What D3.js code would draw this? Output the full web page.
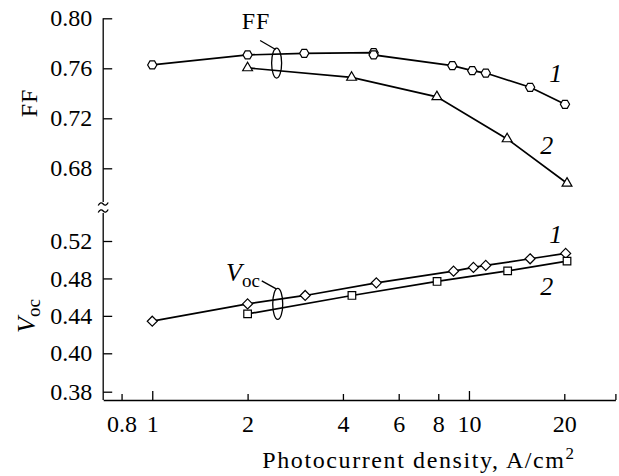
<!DOCTYPE html>
<html>
<head>
<meta charset="utf-8">
<script src="https://cdn.jsdelivr.net/npm/d3@7"></script>
<style>
  body { margin: 0; background: #fff; }
  svg { display: block; font-family: "Liberation Serif", "Times New Roman", serif; }
</style>
</head>
<body>
<div id="chart"></div>
<script>
// photocurrent density, A/cm2
const ffCurrent1 = [1, 2, 3.02, 5, 5, 8.86, 10.24, 11.3, 15.6, 20.1];
const ff1 = [0.7627, 0.7707, 0.772, 0.7725, 0.7707, 0.7621, 0.7581, 0.7562, 0.7448, 0.7312];
const ffCurrent2 = [2, 4.26, 7.92, 13.2, 20.4];
const ff2 = [0.7603, 0.7527, 0.7372, 0.7035, 0.668];

const vocCurrent1 = [1, 2, 3.04, 5.1, 8.94, 10.33, 11.3, 15.6, 20.2];
const voc1 = [0.4343, 0.4528, 0.4618, 0.4753, 0.4878, 0.4918, 0.4939, 0.501, 0.5067];
const vocCurrent2 = [2, 4.27, 7.93, 13.25, 20.4];
const voc2 = [0.4421, 0.4618, 0.4768, 0.4881, 0.4985];

const xTicks = [0.8, 1, 2, 4, 6, 8, 10, 20];
const xMajor = [1, 10];
const ffTicks = [0.68, 0.72, 0.76, 0.80];
const vocTicks = [0.38, 0.40, 0.44, 0.48, 0.52];

const width = 619, height = 476;
const fs = 24;

const svg = d3.select("#chart").append("svg")
  .attr("width", width)
  .attr("height", height);

const x = d3.scaleLog().domain([0.7, 29]).range([103.2, 615.4]);
const yTop = d3.scaleLinear().domain([0.68, 0.80]).range([168.3, 18.3]);
// lower panel axis is not uniform below 0.40 in the original
const yBot = d3.scaleLinear().domain([0.38, 0.40, 0.52]).range([391.7, 353.3, 241]);

const axisY = 400;
const x0 = x.range()[0];

// x axis
const xAxis = svg.append("g")
  .attr("transform", `translate(0,${axisY})`)
  .call(d3.axisBottom(x)
    .tickValues(xTicks.concat([x.domain()[1]]))
    .tickFormat(d => xTicks.includes(d) ? d3.format("~g")(d) : "")
    .tickSizeInner(-6)
    .tickSizeOuter(0)
    .tickPadding(15));
xAxis.selectAll(".tick line")
  .attr("y2", d => xMajor.includes(d) ? -9 : -6);

// y axes
const topAxis = svg.append("g")
  .attr("transform", `translate(${x0},0)`)
  .call(d3.axisLeft(yTop).tickValues(ffTicks).tickFormat(d3.format(".2f"))
    .tickSizeInner(-9).tickSizeOuter(0).tickPadding(11));
topAxis.select(".domain").remove();
const botAxis = svg.append("g")
  .attr("transform", `translate(${x0},0)`)
  .call(d3.axisLeft(yBot).tickValues(vocTicks).tickFormat(d3.format(".2f"))
    .tickSizeInner(-9).tickSizeOuter(0).tickPadding(11));
botAxis.select(".domain").remove();

svg.selectAll(".tick text")
  .attr("font-size", fs)
  .attr("font-family", "Liberation Serif")
  .attr("fill", "#000");
svg.selectAll(".tick line, .domain").attr("stroke", "#000").attr("stroke-width", 1.3);

// broken y axis line
const axisLine = svg.append("g").attr("stroke", "#000").attr("stroke-width", 1.3).attr("fill", "none");
axisLine.append("line").attr("x1", x0).attr("x2", x0).attr("y1", yTop(0.80)).attr("y2", 202);
axisLine.append("line").attr("x1", x0).attr("x2", x0).attr("y1", 213).attr("y2", axisY);
[204, 211].forEach(yy => {
  axisLine.append("path")
    .attr("transform", `translate(${x0},${yy})`)
    .attr("d", "M-5,1.5 Q-2.5,-3 0,0 T5,-1.5");
});

// markers
function hexagon(r) {
  const pts = d3.range(6).map(i => {
    const a = Math.PI / 3 * i;
    return [r * Math.cos(a), r * Math.sin(a)];
  });
  return "M" + pts.join("L") + "Z";
}
const shapes = {
  hex: hexagon(4.6),
  tri: d3.symbol(d3.symbolTriangle, 42)(),
  dia: "M0,-5L5,0L0,5L-5,0Z",
  sq: "M-3.8,-3.8H3.8V3.8H-3.8Z"
};

function series(xs, ys, yScale, shape) {
  const pts = xs.map((d, i) => [d, ys[i]]);
  const line = d3.line().x(d => x(d[0])).y(d => yScale(d[1]));
  svg.append("path")
    .datum(pts)
    .attr("d", line)
    .attr("fill", "none")
    .attr("stroke", "#000")
    .attr("stroke-width", 1.7);
  svg.append("g").selectAll("path")
    .data(pts)
    .join("path")
    .attr("transform", d => `translate(${x(d[0])},${yScale(d[1])})`)
    .attr("d", shapes[shape])
    .attr("fill", "#fff")
    .attr("stroke", "#000")
    .attr("stroke-width", 1.2);
}

series(ffCurrent1, ff1, yTop, "hex");
series(ffCurrent2, ff2, yTop, "tri");
series(vocCurrent1, voc1, yBot, "dia");
series(vocCurrent2, voc2, yBot, "sq");

// group ellipses with leaders
const ann = svg.append("g").attr("fill", "none").attr("stroke", "#000").attr("stroke-width", 1.3);
ann.append("ellipse").attr("cx", x(2.47)).attr("cy", yTop(0.7642)).attr("rx", 5).attr("ry", 15);
ann.append("line").attr("x1", x(2.47) - 16.5).attr("y1", yTop(0.7642) - 22.5)
  .attr("x2", x(2.47) - 1).attr("y2", yTop(0.7642) - 13.5);
ann.append("ellipse").attr("cx", x(2.49)).attr("cy", yBot(0.4528)).attr("rx", 5).attr("ry", 15.5);
ann.append("line").attr("x1", x(2.49) - 16).attr("y1", yBot(0.4528) - 23)
  .attr("x2", x(2.49) - 1.5).attr("y2", yBot(0.4528) - 15);

const txt = svg.append("g").attr("font-size", fs).attr("fill", "#000");
txt.append("text").attr("x", 256).attr("y", 28.5).attr("text-anchor", "middle")
  .attr("letter-spacing", 1).text("FF");

const vLab = txt.append("text").attr("x", 226).attr("y", 280.7);
vLab.append("tspan").attr("font-style", "italic").attr("font-size", 26).text("V");
vLab.append("tspan").attr("font-size", 19).attr("dy", 6).text("oc");

const numLabels = [
  { t: "1", v: 18.8, y: yTop(0.7493) },
  { t: "2", v: 17.6, y: yTop(0.6914) },
  { t: "1", v: 18.8, y: yBot(0.5182) },
  { t: "2", v: 17.6, y: yBot(0.4622) }
];
txt.selectAll(".num").data(numLabels).join("text")
  .attr("class", "num")
  .attr("x", d => x(d.v))
  .attr("y", d => d.y)
  .attr("text-anchor", "middle")
  .attr("font-style", "italic")
  .attr("font-size", 26)
  .text(d => d.t);

// axis titles
txt.append("text")
  .attr("transform", "translate(36.5,103) rotate(-90)")
  .attr("text-anchor", "middle")
  .attr("letter-spacing", 1)
  .text("FF");
const vy = txt.append("text")
  .attr("transform", "translate(34.5,316) rotate(-90)")
  .attr("text-anchor", "middle");
vy.append("tspan").attr("font-style", "italic").attr("font-size", 26).text("V");
vy.append("tspan").attr("font-size", 19).attr("dy", 5).text("oc");

const xt = txt.append("text").attr("x", 419).attr("y", 468).attr("text-anchor", "middle")
  .attr("letter-spacing", 1.6);
xt.append("tspan").text("Photocurrent density, A/cm");
xt.append("tspan").attr("font-size", 17).attr("dy", -9).text("2");
</script>
</body>
</html>
